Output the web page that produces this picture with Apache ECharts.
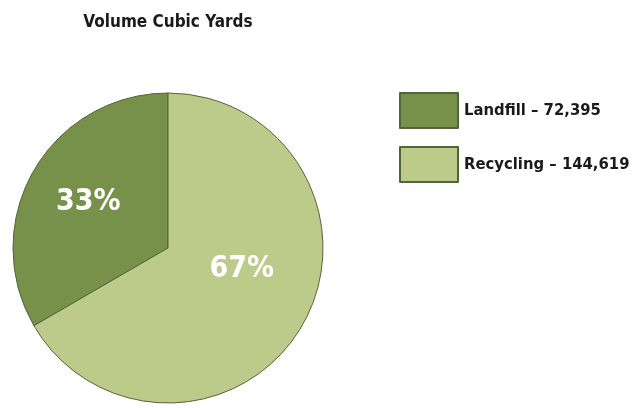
<!DOCTYPE html>
<html>
<head>
<meta charset="utf-8">
<script src="https://cdn.jsdelivr.net/npm/echarts@6/dist/echarts.min.js"></script>
<style>
  html, body { margin: 0; padding: 0; background: #fff; }
  #chart { width: 634px; height: 408px; }
</style>
</head>
<body>
<div id="chart"></div>
<script>
// Waste volume by destination, in cubic yards
const categories = ['Landfill', 'Recycling'];
const volumes = [72395, 144619];
const percentLabels = ['33%', '67%'];
const sliceColors = ['#77914a', '#bdcb8a'];

const FONT = '"DejaVu Sans Condensed", "Liberation Sans Narrow", "Roboto", sans-serif';
const labelOffsets = [[-10, -6], [4, -19]];

const chart = echarts.init(document.getElementById('chart'), null, { renderer: 'canvas' });

const data = categories.map((name, i) => ({
  name,
  value: volumes[i],
  itemStyle: { color: sliceColors[i] },
  label: { offset: labelOffsets[i] }
}));

chart.setOption({
  animation: false,
  title: {
    text: 'Volume Cubic Yards',
    left: 163,
    top: 9,
    textAlign: 'center',
    textStyle: { fontFamily: FONT, fontWeight: 'bold', fontSize: 17, color: '#1a1a1a' }
  },
  legend: {
    orient: 'vertical',
    left: 399,
    top: 92,
    padding: 0,
    itemWidth: 58,
    itemHeight: 35,
    itemGap: 17,
    icon: 'rect',
    formatter: name => {
      const i = categories.indexOf(name);
      return name + ' \u2013 ' + volumes[i].toLocaleString('en-US');
    },
    textStyle: { fontFamily: FONT, fontWeight: 'bold', fontSize: 16.5, color: '#1a1a1a', padding: [0, 0, 0, 1] }
  },
  series: [{
    type: 'pie',
    center: [168, 248],
    radius: 155,
    startAngle: 90,
    clockwise: false,
    data,
    itemStyle: { borderColor: '#52643a', borderWidth: 1 },
    label: {
      show: true,
      position: 'inside',
      formatter: p => percentLabels[p.dataIndex],
      fontFamily: FONT,
      fontWeight: 'bold',
      fontSize: 30,
      color: '#ffffff'
    },
    labelLine: { show: false },
    emphasis: { disabled: true }
  }]
});
</script>
</body>
</html>
